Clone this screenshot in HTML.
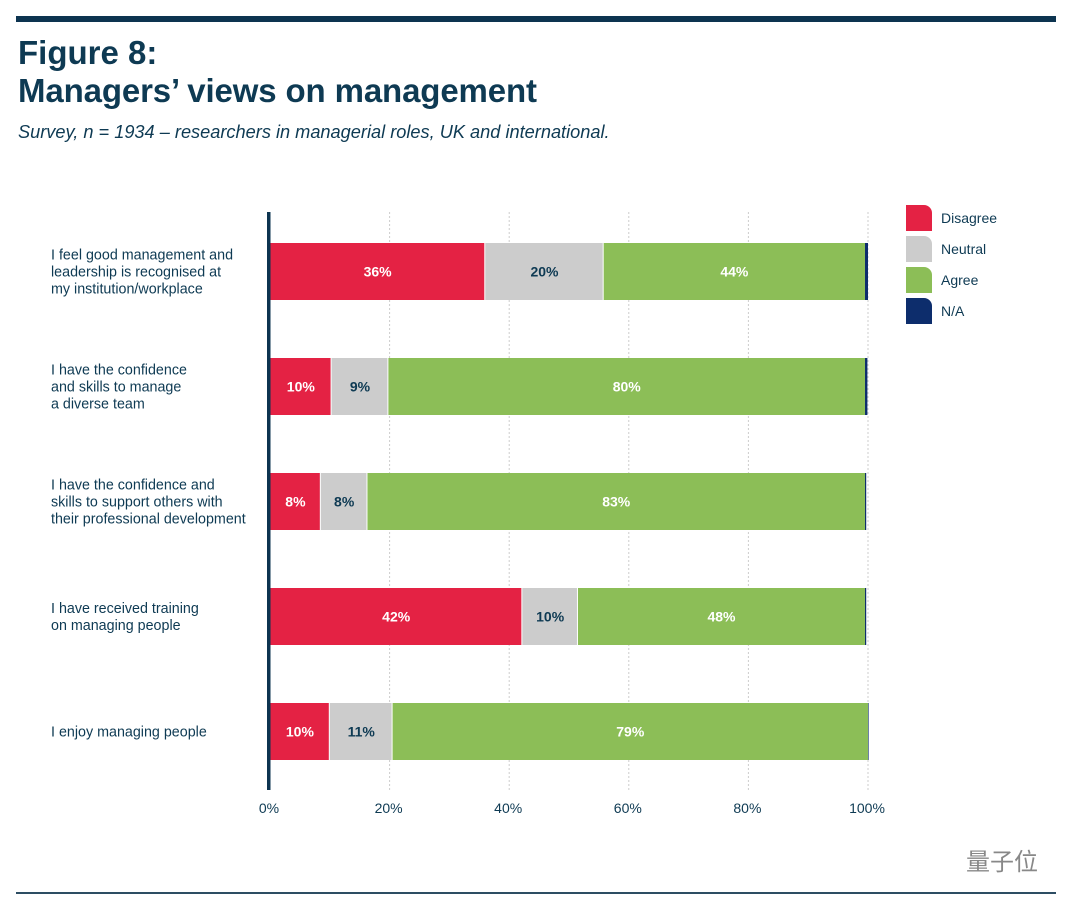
<!DOCTYPE html>
<html><head><meta charset="utf-8"><style>
body{margin:0;width:1080px;height:911px;background:#fff;overflow:hidden;font-family:"Liberation Sans",sans-serif;}
svg{display:block}
</style></head><body>
<svg id="c" width="1080" height="911" xmlns="http://www.w3.org/2000/svg">
<rect x="16" y="16" width="1040" height="6" fill="#0d3450"/>
<text x="18" y="64" font-size="33" font-weight="bold" fill="#0e3a53">Figure 8:</text>
<text x="18" y="102" font-size="33" font-weight="bold" fill="#0e3a53" textLength="519">Managers’ views on management</text>
<text x="18" y="138" font-size="18.2" font-style="italic" fill="#0e3a53">Survey, n = 1934 – researchers in managerial roles, UK and international.</text>
<g id="grid"></g><g id="bars"></g><g id="labels"></g><g id="ticks"></g>
<rect x="267" y="212" width="3.5" height="578" fill="#0d3450"/>
<g id="legend"></g>
<rect x="16" y="892" width="1040" height="2" fill="#2d4d63"/>
<text x="966" y="870" font-size="24" fill="#888" font-family="'Noto Sans CJK SC',sans-serif">量子位</text>
</svg>
<script>
const categories=[["I feel good management and","leadership is recognised at","my institution/workplace"],["I have the confidence","and skills to manage","a diverse team"],["I have the confidence and","skills to support others with","their professional development"],["I have received training","on managing people"],["I enjoy managing people"]];
const disagree=[36,10.3,8.5,42.2,10];
const neutral=[19.8,9.5,7.8,9.3,10.5];
const agree=[43.7,79.7,83.2,48,79.5];
const na=[0.5,0.4,0.2,0.2,0.1];
const disagreeLabels=["36%","10%","8%","42%","10%"];
const neutralLabels=["20%","9%","8%","10%","11%"];
const agreeLabels=["44%","80%","83%","48%","79%"];
const ticks=[0,20,40,60,80,100];
const seriesNames=["Disagree","Neutral","Agree","N/A"];
const colors=["#e42244","#cccccc","#8cbe57","#0d2d6c"];
const textColors=["#fff","#0e3a53","#fff",null];
const NS="http://www.w3.org/2000/svg";
const x=v=>270+v*5.98;
const y=i=>243+i*115;
const BH=57;
function mk(tag,attrs,parent,txt){const e=document.createElementNS(NS,tag);for(const k in attrs)e.setAttribute(k,attrs[k]);if(txt!=null)e.textContent=txt;document.getElementById(parent).appendChild(e);return e;}
ticks.forEach(t=>{
 if(t>0){const g=mk('line',{x1:x(t),x2:x(t),y1:212,y2:790,stroke:'#ccc','stroke-dasharray':'2,2','stroke-width':1},'grid');
 
 }
 const tl=mk('text',{x:x(t)-1,y:813,'font-size':14,fill:'#0e3a53','text-anchor':'middle'},'ticks',t+'%');
 
 
});
const series=[disagree,neutral,agree,na];
const labs=[disagreeLabels,neutralLabels,agreeLabels,null];
categories.forEach((cat,i)=>{
 let acc=0;
 series.forEach((s,j)=>{
  const v=s[i];const x1=x(acc),x2=x(acc+v);
  const r=mk('rect',{x:x1,y:y(i),width:Math.max(x2-x1-(j<2?1:0),0.5),height:BH,fill:colors[j]},'bars');
  
  
  if(labs[j]){const t=mk('text',{x:(x1+x2)/2,y:y(i)+BH/2+5,'font-size':14,'font-weight':'bold',fill:textColors[j],'text-anchor':'middle'},'bars',labs[j][i]);
   
   }
  acc+=v;
 });
 const n=cat.length;
 cat.forEach((line,k)=>{
  const t=mk('text',{x:51,y:y(i)+BH/2+5+(k-(n-1)/2)*17,'font-size':14.3,fill:'#0e3a53'},'labels',line);
  
  
 });
});
seriesNames.forEach((nm,j)=>{
 const yy=205+j*31;
 const p=mk('path',{d:`M906 ${yy}h18a8 8 0 0 1 8 8v18h-26z`,fill:colors[j]},'legend');
 
 
 const t=mk('text',{x:941,y:yy+18,'font-size':14,fill:'#0e3a53'},'legend',nm);
 
 
});
</script>
</body></html>
